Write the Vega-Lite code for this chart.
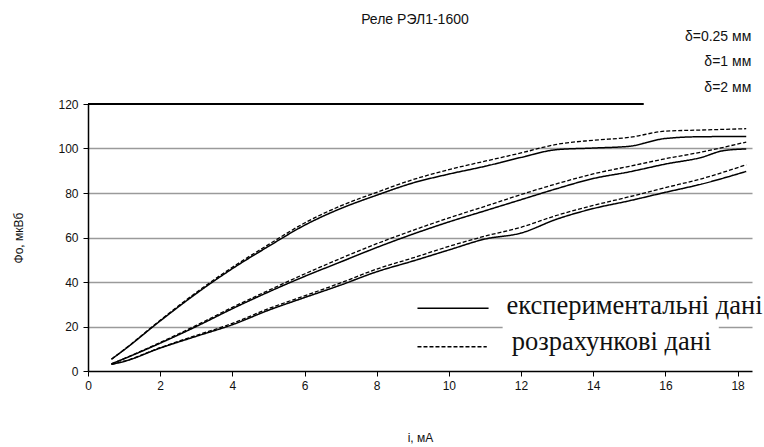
{
  "$schema": "https://vega.github.io/schema/vega-lite/v6.json",
  "autosize": "none",
  "width": 664,
  "height": 267,
  "padding": {"left": 88, "top": 104, "right": 12, "bottom": 76},
  "background": "white",
  "config": {
    "view": {"stroke": null},
    "font": "Liberation Sans",
    "axis": {
      "labelFont": "Liberation Sans",
      "titleFont": "Liberation Sans",
      "labelFontSize": 12,
      "titleFontSize": 12,
      "titleFontWeight": "normal",
      "labelColor": "#111",
      "titleColor": "#111",
      "domainColor": "#000",
      "domainWidth": 1.5,
      "tickColor": "#000",
      "tickWidth": 1,
      "tickSize": 5
    }
  },
  "datasets": {
    "curves": [
      {"i": 0.65, "phi": 5.3, "curve": "d025-exp", "type": "exp"},
      {"i": 1, "phi": 9.5, "curve": "d025-exp", "type": "exp"},
      {"i": 2, "phi": 22.5, "curve": "d025-exp", "type": "exp"},
      {"i": 3, "phi": 34.8, "curve": "d025-exp", "type": "exp"},
      {"i": 4, "phi": 46, "curve": "d025-exp", "type": "exp"},
      {"i": 5, "phi": 56, "curve": "d025-exp", "type": "exp"},
      {"i": 6, "phi": 65.5, "curve": "d025-exp", "type": "exp"},
      {"i": 7, "phi": 73, "curve": "d025-exp", "type": "exp"},
      {"i": 8, "phi": 79, "curve": "d025-exp", "type": "exp"},
      {"i": 9, "phi": 84.5, "curve": "d025-exp", "type": "exp"},
      {"i": 10, "phi": 88.5, "curve": "d025-exp", "type": "exp"},
      {"i": 11, "phi": 92, "curve": "d025-exp", "type": "exp"},
      {"i": 12, "phi": 96, "curve": "d025-exp", "type": "exp"},
      {"i": 13, "phi": 99.5, "curve": "d025-exp", "type": "exp"},
      {"i": 14, "phi": 100.2, "curve": "d025-exp", "type": "exp"},
      {"i": 15, "phi": 101, "curve": "d025-exp", "type": "exp"},
      {"i": 16, "phi": 104.5, "curve": "d025-exp", "type": "exp"},
      {"i": 17, "phi": 105.3, "curve": "d025-exp", "type": "exp"},
      {"i": 18.24, "phi": 105.4, "curve": "d025-exp", "type": "exp"},

      {"i": 0.65, "phi": 5.3, "curve": "d025-calc", "type": "calc"},
      {"i": 1, "phi": 9.6, "curve": "d025-calc", "type": "calc"},
      {"i": 2, "phi": 22.8, "curve": "d025-calc", "type": "calc"},
      {"i": 3, "phi": 35.3, "curve": "d025-calc", "type": "calc"},
      {"i": 4, "phi": 46.6, "curve": "d025-calc", "type": "calc"},
      {"i": 5, "phi": 56.8, "curve": "d025-calc", "type": "calc"},
      {"i": 6, "phi": 66.5, "curve": "d025-calc", "type": "calc"},
      {"i": 7, "phi": 74.2, "curve": "d025-calc", "type": "calc"},
      {"i": 8, "phi": 80.3, "curve": "d025-calc", "type": "calc"},
      {"i": 9, "phi": 86, "curve": "d025-calc", "type": "calc"},
      {"i": 10, "phi": 90.5, "curve": "d025-calc", "type": "calc"},
      {"i": 11, "phi": 94.3, "curve": "d025-calc", "type": "calc"},
      {"i": 12, "phi": 98, "curve": "d025-calc", "type": "calc"},
      {"i": 13, "phi": 101.9, "curve": "d025-calc", "type": "calc"},
      {"i": 14, "phi": 103.7, "curve": "d025-calc", "type": "calc"},
      {"i": 15, "phi": 105, "curve": "d025-calc", "type": "calc"},
      {"i": 16, "phi": 107.8, "curve": "d025-calc", "type": "calc"},
      {"i": 17, "phi": 108.3, "curve": "d025-calc", "type": "calc"},
      {"i": 18.24, "phi": 108.9, "curve": "d025-calc", "type": "calc"},

      {"i": 0.65, "phi": 3.2, "curve": "d1-exp", "type": "exp"},
      {"i": 1, "phi": 5.5, "curve": "d1-exp", "type": "exp"},
      {"i": 2, "phi": 12.5, "curve": "d1-exp", "type": "exp"},
      {"i": 3, "phi": 20, "curve": "d1-exp", "type": "exp"},
      {"i": 4, "phi": 28, "curve": "d1-exp", "type": "exp"},
      {"i": 5, "phi": 35.5, "curve": "d1-exp", "type": "exp"},
      {"i": 6, "phi": 42.5, "curve": "d1-exp", "type": "exp"},
      {"i": 7, "phi": 49, "curve": "d1-exp", "type": "exp"},
      {"i": 8, "phi": 55.5, "curve": "d1-exp", "type": "exp"},
      {"i": 9, "phi": 61.5, "curve": "d1-exp", "type": "exp"},
      {"i": 10, "phi": 67, "curve": "d1-exp", "type": "exp"},
      {"i": 11, "phi": 72, "curve": "d1-exp", "type": "exp"},
      {"i": 12, "phi": 77, "curve": "d1-exp", "type": "exp"},
      {"i": 13, "phi": 82, "curve": "d1-exp", "type": "exp"},
      {"i": 14, "phi": 86.5, "curve": "d1-exp", "type": "exp"},
      {"i": 15, "phi": 89.5, "curve": "d1-exp", "type": "exp"},
      {"i": 16, "phi": 93, "curve": "d1-exp", "type": "exp"},
      {"i": 17, "phi": 96, "curve": "d1-exp", "type": "exp"},
      {"i": 17.6, "phi": 99, "curve": "d1-exp", "type": "exp"},
      {"i": 18.24, "phi": 99.8, "curve": "d1-exp", "type": "exp"},

      {"i": 0.65, "phi": 3.2, "curve": "d1-calc", "type": "calc"},
      {"i": 1, "phi": 5.6, "curve": "d1-calc", "type": "calc"},
      {"i": 2, "phi": 12.8, "curve": "d1-calc", "type": "calc"},
      {"i": 3, "phi": 20.5, "curve": "d1-calc", "type": "calc"},
      {"i": 4, "phi": 28.6, "curve": "d1-calc", "type": "calc"},
      {"i": 5, "phi": 36.2, "curve": "d1-calc", "type": "calc"},
      {"i": 6, "phi": 43.6, "curve": "d1-calc", "type": "calc"},
      {"i": 7, "phi": 50.6, "curve": "d1-calc", "type": "calc"},
      {"i": 8, "phi": 57.2, "curve": "d1-calc", "type": "calc"},
      {"i": 9, "phi": 63.2, "curve": "d1-calc", "type": "calc"},
      {"i": 10, "phi": 68.8, "curve": "d1-calc", "type": "calc"},
      {"i": 11, "phi": 74, "curve": "d1-calc", "type": "calc"},
      {"i": 12, "phi": 79.3, "curve": "d1-calc", "type": "calc"},
      {"i": 13, "phi": 84.2, "curve": "d1-calc", "type": "calc"},
      {"i": 14, "phi": 88.6, "curve": "d1-calc", "type": "calc"},
      {"i": 15, "phi": 92, "curve": "d1-calc", "type": "calc"},
      {"i": 16, "phi": 95.4, "curve": "d1-calc", "type": "calc"},
      {"i": 17, "phi": 98.4, "curve": "d1-calc", "type": "calc"},
      {"i": 18.24, "phi": 102.9, "curve": "d1-calc", "type": "calc"},

      {"i": 0.65, "phi": 3, "curve": "d2-exp", "type": "exp"},
      {"i": 1, "phi": 4.3, "curve": "d2-exp", "type": "exp"},
      {"i": 2, "phi": 10.3, "curve": "d2-exp", "type": "exp"},
      {"i": 3, "phi": 15.6, "curve": "d2-exp", "type": "exp"},
      {"i": 4, "phi": 20.8, "curve": "d2-exp", "type": "exp"},
      {"i": 5, "phi": 27.3, "curve": "d2-exp", "type": "exp"},
      {"i": 6, "phi": 33, "curve": "d2-exp", "type": "exp"},
      {"i": 7, "phi": 38.6, "curve": "d2-exp", "type": "exp"},
      {"i": 8, "phi": 44.6, "curve": "d2-exp", "type": "exp"},
      {"i": 9, "phi": 49.4, "curve": "d2-exp", "type": "exp"},
      {"i": 10, "phi": 54.4, "curve": "d2-exp", "type": "exp"},
      {"i": 11, "phi": 59.3, "curve": "d2-exp", "type": "exp"},
      {"i": 12, "phi": 62, "curve": "d2-exp", "type": "exp"},
      {"i": 13, "phi": 68.3, "curve": "d2-exp", "type": "exp"},
      {"i": 14, "phi": 73, "curve": "d2-exp", "type": "exp"},
      {"i": 15, "phi": 76.5, "curve": "d2-exp", "type": "exp"},
      {"i": 16, "phi": 80.3, "curve": "d2-exp", "type": "exp"},
      {"i": 17, "phi": 84, "curve": "d2-exp", "type": "exp"},
      {"i": 18.24, "phi": 89.7, "curve": "d2-exp", "type": "exp"},

      {"i": 0.65, "phi": 3, "curve": "d2-calc", "type": "calc"},
      {"i": 1, "phi": 4.4, "curve": "d2-calc", "type": "calc"},
      {"i": 2, "phi": 10.5, "curve": "d2-calc", "type": "calc"},
      {"i": 3, "phi": 16, "curve": "d2-calc", "type": "calc"},
      {"i": 4, "phi": 21.4, "curve": "d2-calc", "type": "calc"},
      {"i": 5, "phi": 28, "curve": "d2-calc", "type": "calc"},
      {"i": 6, "phi": 33.8, "curve": "d2-calc", "type": "calc"},
      {"i": 7, "phi": 39.6, "curve": "d2-calc", "type": "calc"},
      {"i": 8, "phi": 45.8, "curve": "d2-calc", "type": "calc"},
      {"i": 9, "phi": 50.8, "curve": "d2-calc", "type": "calc"},
      {"i": 10, "phi": 56, "curve": "d2-calc", "type": "calc"},
      {"i": 11, "phi": 60.6, "curve": "d2-calc", "type": "calc"},
      {"i": 12, "phi": 64.6, "curve": "d2-calc", "type": "calc"},
      {"i": 13, "phi": 70, "curve": "d2-calc", "type": "calc"},
      {"i": 14, "phi": 74.4, "curve": "d2-calc", "type": "calc"},
      {"i": 15, "phi": 78.3, "curve": "d2-calc", "type": "calc"},
      {"i": 16, "phi": 82.4, "curve": "d2-calc", "type": "calc"},
      {"i": 17, "phi": 86.4, "curve": "d2-calc", "type": "calc"},
      {"i": 18.24, "phi": 92.7, "curve": "d2-calc", "type": "calc"}
    ],
    "titles": [
      {"label": "Реле РЭЛ1-1600", "i": 9.06, "phi": 157.8}
    ],
    "deltas": [
      {"label": "δ=0.25 мм", "i": 18.38, "phi": 150.3},
      {"label": "δ=1 мм", "i": 18.38, "phi": 139.1},
      {"label": "δ=2 мм", "i": 18.38, "phi": 127.4}
    ],
    "legendLines": [
      {"i": 9.13, "i2": 11.1, "phi": 28.2, "type": "exp"},
      {"i": 9.13, "i2": 11.05, "phi": 10.9, "type": "calc"}
    ],
    "legendText": [
      {"label": "експериментальні дані", "i": 11.6, "phi": 25.7},
      {"label": "розрахункові дані", "i": 11.74, "phi": 9.45}
    ],
    "legendBox": [
      {"i": 11.49, "i2": 17.48, "phi": 18.6, "phi2": 21.4}
    ],
    "topLine": [
      {"i": 0, "i2": 15.4, "phi": 120}
    ]
  },
  "layer": [
    {
      "data": {"name": "legendBox"},
      "mark": {"type": "rect", "fill": "white", "stroke": null},
      "encoding": {
        "x": {"field": "i", "type": "quantitative",
              "scale": {"domain": [0, 18.4], "nice": false, "zero": false},
              "axis": {"values": [0, 2, 4, 6, 8, 10, 12, 14, 16, 18], "title": "i, мА", "grid": false, "labelPadding": 4, "titlePadding": 41, "labelFlush": false}},
        "x2": {"field": "i2"},
        "y": {"field": "phi", "type": "quantitative",
              "scale": {"domain": [0, 120], "nice": false},
              "axis": {"values": [0, 20, 40, 60, 80, 100, 120], "title": "Фо, мкВб", "grid": true,
                       "gridColor": "#9a9a9a", "gridWidth": 1.5,
                       "gridOpacity": {"condition": {"test": "datum.value === 120 || datum.value === 0", "value": 0}, "value": 1},
                       "labelPadding": 5, "titlePadding": 32}},
        "y2": {"field": "phi2"}
      }
    },
    {
      "data": {"name": "topLine"},
      "mark": {"type": "rule", "color": "#000", "strokeWidth": 2},
      "encoding": {
        "x": {"field": "i", "type": "quantitative"},
        "x2": {"field": "i2"},
        "y": {"field": "phi", "type": "quantitative"}
      }
    },
    {
      "data": {"name": "curves"},
      "mark": {"type": "line", "color": "#000", "interpolate": "monotone"},
      "encoding": {
        "x": {"field": "i", "type": "quantitative"},
        "y": {"field": "phi", "type": "quantitative"},
        "detail": {"field": "curve"},
        "strokeDash": {"field": "type", "type": "nominal",
                       "scale": {"domain": ["exp", "calc"], "range": [[1, 0], [4, 2]]}, "legend": null},
        "strokeWidth": {"field": "type", "type": "nominal",
                        "scale": {"domain": ["exp", "calc"], "range": [1.5, 1.3]}, "legend": null}
      }
    },
    {
      "data": {"name": "legendLines"},
      "mark": {"type": "rule", "color": "#000"},
      "encoding": {
        "x": {"field": "i", "type": "quantitative"},
        "x2": {"field": "i2"},
        "y": {"field": "phi", "type": "quantitative"},
        "strokeDash": {"field": "type", "type": "nominal",
                       "scale": {"domain": ["exp", "calc"], "range": [[1, 0], [4, 2]]}, "legend": null},
        "strokeWidth": {"field": "type", "type": "nominal",
                        "scale": {"domain": ["exp", "calc"], "range": [1.5, 1.3]}, "legend": null}
      }
    },
    {
      "data": {"name": "legendText"},
      "mark": {"type": "text", "align": "left", "baseline": "alphabetic", "font": "Liberation Serif", "fontSize": 26.5, "color": "#111"},
      "encoding": {
        "x": {"field": "i", "type": "quantitative"},
        "y": {"field": "phi", "type": "quantitative"},
        "text": {"field": "label"}
      }
    },
    {
      "data": {"name": "titles"},
      "mark": {"type": "text", "align": "center", "baseline": "middle", "font": "Liberation Sans", "fontSize": 14, "color": "#111"},
      "encoding": {
        "x": {"field": "i", "type": "quantitative"},
        "y": {"field": "phi", "type": "quantitative"},
        "text": {"field": "label"}
      }
    },
    {
      "data": {"name": "deltas"},
      "mark": {"type": "text", "align": "right", "baseline": "middle", "font": "Liberation Sans", "fontSize": 14, "color": "#111"},
      "encoding": {
        "x": {"field": "i", "type": "quantitative"},
        "y": {"field": "phi", "type": "quantitative"},
        "text": {"field": "label"}
      }
    }
  ]
}
